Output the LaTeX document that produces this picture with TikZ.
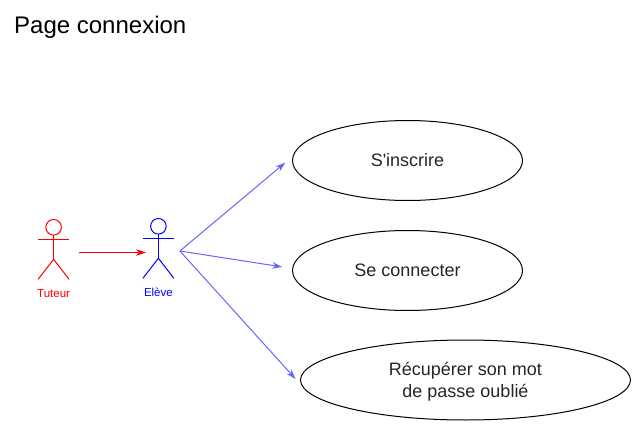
\documentclass[tikz,border=0pt]{standalone}
\usepackage{fontspec}
\setmainfont{Liberation Sans}
\newfontfamily\droitfont{Liberation Sans}
\usetikzlibrary{shapes.geometric, arrows.meta}
\definecolor{lienbleu}{HTML}{6666FF}
\tikzset{
    usecase/.style={draw, line width=1pt, ellipse, inner sep=0pt, minimum height=80pt, align=center, font=\droitfont\fontsize{18}{22}\selectfont, text=black!85},
    actorbox/.style={minimum width=31pt, minimum height=20pt, inner sep=0pt, outer sep=0pt},
    actorname/.style={font=\fontsize{11.5}{14}\selectfont},
    lien/.style={-{Stealth[length=10pt, width=6.5pt]}, line width=1pt},
}
\newcommand{\stickman}[3]{%
    \draw[#1, line width=1pt] (#2,#3-24.5) circle (7.8pt);
    \draw[#1, line width=1pt] (#2,#3-16.5) -- (#2,#3+7.5);
    \draw[#1, line width=1pt] (#2-15.5,#3-12.5) -- (#2+15.5,#3-12.5);
    \draw[#1, line width=1pt] (#2-15.5,#3+27.5) -- (#2,#3+7.5) -- (#2+15.5,#3+27.5);
}
\begin{document}
\begin{tikzpicture}[x=1pt, y=-1pt]
    \useasboundingbox (0,0) rectangle (641,431);
    \node[anchor=base west, font=\fontsize{24}{28}\selectfont, inner sep=0pt] (titre) at (14,33) {Page connexion};

    \stickman{red}{53.6}{251.8}
    \stickman{blue}{158.4}{250.8}
    \node[actorbox] (tuteur) at (53.6,252.5) {};
    \node[actorbox, outer sep=6pt] (eleve) at (158.4,251) {};
    \node[actorname, red, anchor=base] (tuteurnom) at (53.6,297) {Tuteur};
    \node[actorname, blue, anchor=base] (elevenom) at (158.4,296) {Elève};

    \node[usecase, minimum width=230pt] (inscrire) at (407.5,160.5) {S'inscrire};
    \node[usecase, minimum width=230pt] (connecter) at (407.5,270.5) {Se connecter};
    \node[usecase, minimum width=330pt, text depth=0pt] (recuperer) at (465.5,380) {Récupérer son mot\\de passe oublié};

    \draw[lien, red, shorten <=10pt, shorten >=-9pt] (tuteur.east) -- (tuteur.east -| eleve.west);
    \draw[lien, lienbleu, shorten >=9.5pt] (eleve.east) -- (inscrire.178);
    \draw[lien, lienbleu, shorten >=10pt] (eleve.east) -- (connecter.179);
    \draw[lien, lienbleu, shorten >=9pt] (eleve.east) -- (recuperer.182);
\end{tikzpicture}
\end{document}
